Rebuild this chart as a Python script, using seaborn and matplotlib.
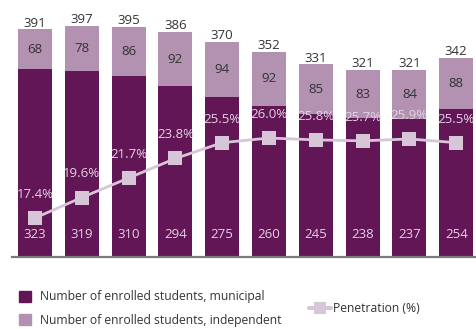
import numpy as np
import pandas as pd
import seaborn as sns
from matplotlib import pyplot as plt
from matplotlib.lines import Line2D
from matplotlib.patches import Patch

# data
periods = ["1", "2", "3", "4", "5", "6", "7", "8", "9", "10"]
municipal = [323, 319, 310, 294, 275, 260, 245, 238, 237, 254]
independent = [68, 78, 86, 92, 94, 92, 85, 83, 84, 88]
totals = [391, 397, 395, 386, 370, 352, 331, 321, 321, 342]
penetration = [17.4, 19.6, 21.7, 23.8, 25.5, 26.0, 25.8, 25.7, 25.9, 25.5]

c_mun = "#621655"
c_ind = "#b391b0"
c_pen = "#d7c5d8"
c_txt = "#333333"
c_lbl = "#e3d3e3"

sns.set_style("white")
plt.rcParams['font.family'] = ['Open Sans', 'DejaVu Sans']

df = pd.DataFrame({"period": periods, "municipal": municipal,
                   "independent": independent, "total": totals,
                   "penetration": penetration})

fig = plt.figure(figsize=(4.77, 3.29), dpi=100)
W, H = 477, 329
ax = fig.add_axes([11.6 / W, (H - 257) / H, 468 / W, (257 - 20) / H])

# stacked bars: total (independent colour) with municipal drawn over it
sns.barplot(data=df, x="period", y="total", color=c_ind, saturation=1,
            width=0.73, errorbar=None, linewidth=0, ax=ax)
sns.barplot(data=df, x="period", y="municipal", color=c_mun, saturation=1,
            width=0.73, errorbar=None, linewidth=0, ax=ax)
ax.set_xlim(-0.5, 9.5)
ax.set_ylim(0, 407)

ax2 = ax.twinx()
sns.lineplot(x=np.arange(len(periods)), y=df["penetration"], ax=ax2,
             color=c_pen, linewidth=2.0, marker="s", markersize=10,
             markeredgewidth=0, markerfacecolor=c_pen)
ax2.set_ylim(13.2, 38.7)

for a in (ax, ax2):
    a.set_xlabel("")
    a.set_ylabel("")
    a.set_yticks([])
    a.tick_params(bottom=False, labelbottom=False)
    for s in ["top", "left", "right", "bottom"]:
        a.spines[s].set_visible(False)
ax.spines["bottom"].set_visible(True)
ax.spines["bottom"].set_color("#7a7a7a")
ax.spines["bottom"].set_linewidth(1.6)

fs = 9.5
for i in range(len(periods)):
    ax.annotate(str(totals[i]), (i, totals[i]), xytext=(0, 4.5), textcoords="offset points",
                ha="center", va="center", fontsize=fs, color=c_txt)
    ax.text(i, municipal[i] + independent[i] / 2, str(independent[i]),
            ha="center", va="center", fontsize=fs, color=c_txt)
    ax.annotate(str(municipal[i]), (i, 0), xytext=(0, 16), textcoords="offset points",
                ha="center", va="center", fontsize=fs, color=c_lbl)
    ax2.annotate(f"{penetration[i]:.1f}%", (i, penetration[i]), xytext=(0, 17),
                 textcoords="offset points", ha="center", va="center",
                 fontsize=fs, color=c_lbl)

bar_handles = [Patch(color=c_mun, label="Number of enrolled students, municipal"),
               Patch(color=c_ind, label="Number of enrolled students, independent")]
fig.legend(handles=bar_handles, loc="upper left", bbox_to_anchor=(12 / W, 1 - 283 / H),
           frameon=False, fontsize=8.7, handlelength=0.95, handleheight=1.05,
           handletextpad=0.8, labelspacing=0.85, labelcolor=c_txt, borderaxespad=0.2)
line_handle = [Line2D([0], [0], color=c_pen, linewidth=3, marker="s", markersize=8,
                      markeredgewidth=0, label="Penetration (%)")]
fig.legend(handles=line_handle, loc="upper left", bbox_to_anchor=(298 / W, 1 - 291 / H),
           frameon=False, fontsize=8.7, handlelength=1.8, handletextpad=0.2,
           labelcolor=c_txt)

fig.savefig("out.png", dpi=100)
